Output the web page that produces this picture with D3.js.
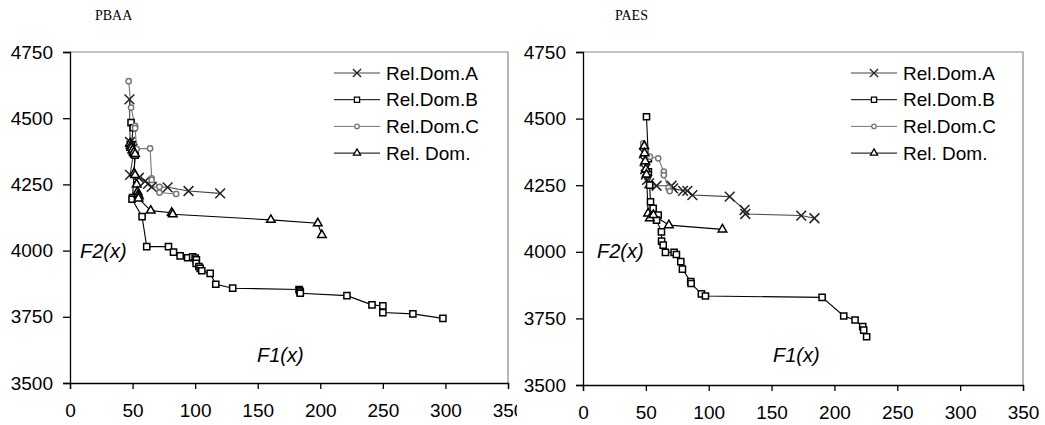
<html>
<head>
<style>
  body { margin: 0; background: white; font-family: Arial, "Liberation Sans", sans-serif; }
  svg { position: absolute; top: 0; overflow: hidden; }
</style>
<script src="https://cdn.jsdelivr.net/npm/d3@7"></script>
</head>
<body>
<svg id="left" style="left:0px" width="517" height="425"></svg>
<svg id="right" style="left:517px" width="528" height="425"></svg>
<script>
  // tick labels
  let xTicks = [0, 50, 100, 150, 200, 250, 300, 350]
  let yTicks = [3500, 3750, 4000, 4250, 4500, 4750]
  let seriesNames = ["Rel.Dom.A", "Rel.Dom.B", "Rel.Dom.C", "Rel. Dom."]

  // PBAA  [F1, F2]
  let pbaaRelDomA = [[47.5,4571],[48,4410],[49,4395],[50,4385],[51,4375],[48,4286],[55,4275],[60,4262],[62.4,4252],[65.3,4241],[78,4239],[94.7,4225],[120,4216]]
  let pbaaRelDomB = [[48.8,4483],[50.5,4464],[49,4400],[49.5,4385],[50,4375],[51,4365],[52,4360],[50,4200],[49.6,4194],[57.6,4128],[61.3,4015],[78.7,4015],[82.7,3994],[88,3980],[94,3973],[98,3976],[100,3972],[101,3965],[100.8,3952],[103,3940],[104,3933],[105.3,3924],[112,3914],[116.5,3873],[130,3858],[183,3853],[183.5,3848],[184,3843],[184,3839],[221.3,3830],[241.3,3795],[250,3791],[250,3766],[274,3761],[298,3744]]
  let pbaaRelDomC = [[46.9,4640],[48.8,4540],[52,4471],[52,4462],[53.3,4384],[64,4386],[65.3,4273],[65.3,4267],[71.5,4241],[71.5,4219],[84.8,4214]]
  let pbaaRelDom = [[48,4405],[48.5,4395],[49,4388],[50,4380],[51,4372],[52,4365],[51.2,4292],[52,4285],[53.3,4250],[53.9,4222],[54.5,4212],[55,4205],[54.7,4197],[64.5,4151],[81.3,4143],[82.1,4137],[160.5,4116],[198,4103],[201.3,4059]]

  // PAES  [F1, F2]
  let paesRelDomA = [[48.5,4370],[49,4340],[49.5,4310],[50,4290],[51,4270],[52.6,4257],[58.5,4248],[70.4,4248],[71.7,4238],[79.6,4229],[83,4229],[87,4213],[116.7,4207],[128.5,4157],[129.1,4142],[173.6,4136],[184.1,4126]]
  let paesRelDomB = [[50.5,4507],[52,4350],[52,4300],[53,4250],[53.7,4188],[55.8,4163],[59.8,4138],[58.5,4119],[62.4,4075],[62.5,4040],[63.8,4025],[65.6,3998],[72.5,3998],[74.3,3990],[77.8,3963],[79.1,3935],[85.7,3888],[86,3881],[94.2,3842],[97.4,3834],[190.2,3829],[207.4,3759],[216.4,3744],[222.5,3719],[223.3,3706],[225.6,3681]]
  let paesRelDomC = [[47.9,4407],[49.5,4382],[53.2,4357],[59.8,4351],[64.3,4301],[64.3,4288],[68,4240],[69,4228]]
  let paesRelDom = [[48.7,4397],[49,4370],[49.5,4340],[50,4310],[50.5,4290],[51.8,4144],[53.2,4126],[56,4138],[68.3,4100],[110.9,4084]]

  let styles = [
    { symbol: d3.symbolTimes, size: 64, fill: "none", stroke: "#222", line: "#444" },
    { symbol: d3.symbolSquare, size: 38, fill: "white", stroke: "#000", line: "#000" },
    { symbol: d3.symbolCircle, size: 22, fill: "white", stroke: "#777", line: "#777" },
    { symbol: d3.symbolTriangle, size: 32, fill: "white", stroke: "#000", line: "#000" }
  ]

  function drawPanel(svgId, title, series, cfg) {
    let svg = d3.select(svgId)
    let xScale = d3.scaleLinear().domain([0, 350]).range([cfg.left, cfg.right])
    let yScale = d3.scaleLinear().domain([3500, 4750]).range([cfg.bottom, cfg.top])

    svg.append("text")
      .attr("x", cfg.titleX).attr("y", 20)
      .style("font-family", "'Liberation Serif', 'Times New Roman', serif")
      .style("font-size", "14px")
      .text(title)

    // gray frame top/right
    svg.append("path")
      .attr("d", `M${cfg.left},${cfg.top}H${cfg.right}V${cfg.bottom}`)
      .attr("fill", "none").attr("stroke", "#888").attr("stroke-width", 1.2)

    let axisX = d3.axisBottom(xScale).tickValues(xTicks).tickFormat(d3.format("d"))
      .tickSizeOuter(0).tickSize(6).tickPadding(15)
    let gx = svg.append("g").attr("transform", `translate(0,${cfg.bottom})`).call(axisX)
    let axisY = d3.axisLeft(yScale).tickValues(yTicks).tickFormat(d3.format("d"))
      .tickSizeOuter(0).tickSize(7).tickPadding(10)
    let gy = svg.append("g").attr("transform", `translate(${cfg.left},0)`).call(axisY)
    for (let g of [gx, gy]) {
      g.selectAll("path, line").attr("stroke", "#000").attr("stroke-width", 1.3)
      g.selectAll("text").style("font-size", "19px").style("font-family", "Arial, 'Liberation Sans', sans-serif").attr("fill", "#000")
    }

    let line = d3.line().x(d => xScale(d[0])).y(d => yScale(d[1]))
    series.forEach((data, i) => {
      let st = styles[i]
      svg.append("path").datum(data)
        .attr("d", line).attr("fill", "none")
        .attr("stroke", st.line).attr("stroke-width", 1.1)
    })
    series.forEach((data, i) => {
      let st = styles[i]
      svg.append("g").selectAll("path").data(data).enter().append("path")
        .attr("d", d3.symbol().type(st.symbol).size(st.size))
        .attr("transform", d => `translate(${xScale(d[0])},${yScale(d[1])})`)
        .attr("fill", st.fill).attr("stroke", st.stroke).attr("stroke-width", 1.5)
    })

    // legend
    seriesNames.forEach((name, i) => {
      let st = styles[i]
      let y = 73 + i * 26.7
      let g = svg.append("g")
      g.append("line").attr("x1", cfg.legendX).attr("x2", cfg.legendX + 46)
        .attr("y1", y).attr("y2", y).attr("stroke", st.line).attr("stroke-width", 1)
      g.append("path")
        .attr("d", d3.symbol().type(st.symbol).size(st.size * 0.7))
        .attr("transform", `translate(${cfg.legendX + 23},${y})`)
        .attr("fill", st.fill).attr("stroke", st.stroke).attr("stroke-width", 1.3)
      g.append("text").attr("x", cfg.legendX + 52).attr("y", y).attr("dy", "0.35em")
        .style("font-size", "19px").text(name)
    })

    svg.append("text").attr("x", cfg.f2X).attr("y", 258)
      .style("font-size", "20px").style("font-style", "italic").text("F2(x)")
    svg.append("text").attr("x", cfg.f1X).attr("y", 362)
      .style("font-size", "20px").style("font-style", "italic").text("F1(x)")
  }

  drawPanel("#left", "PBAA", [pbaaRelDomA, pbaaRelDomB, pbaaRelDomC, pbaaRelDom],
    { left: 70, right: 508, top: 52, bottom: 383, titleX: 95, legendX: 334, f2X: 80, f1X: 257 })
  drawPanel("#right", "PAES", [paesRelDomA, paesRelDomB, paesRelDomC, paesRelDom],
    { left: 66, right: 506, top: 52, bottom: 385, titleX: 98, legendX: 334, f2X: 80, f1X: 256 })
</script>
</body>
</html>
